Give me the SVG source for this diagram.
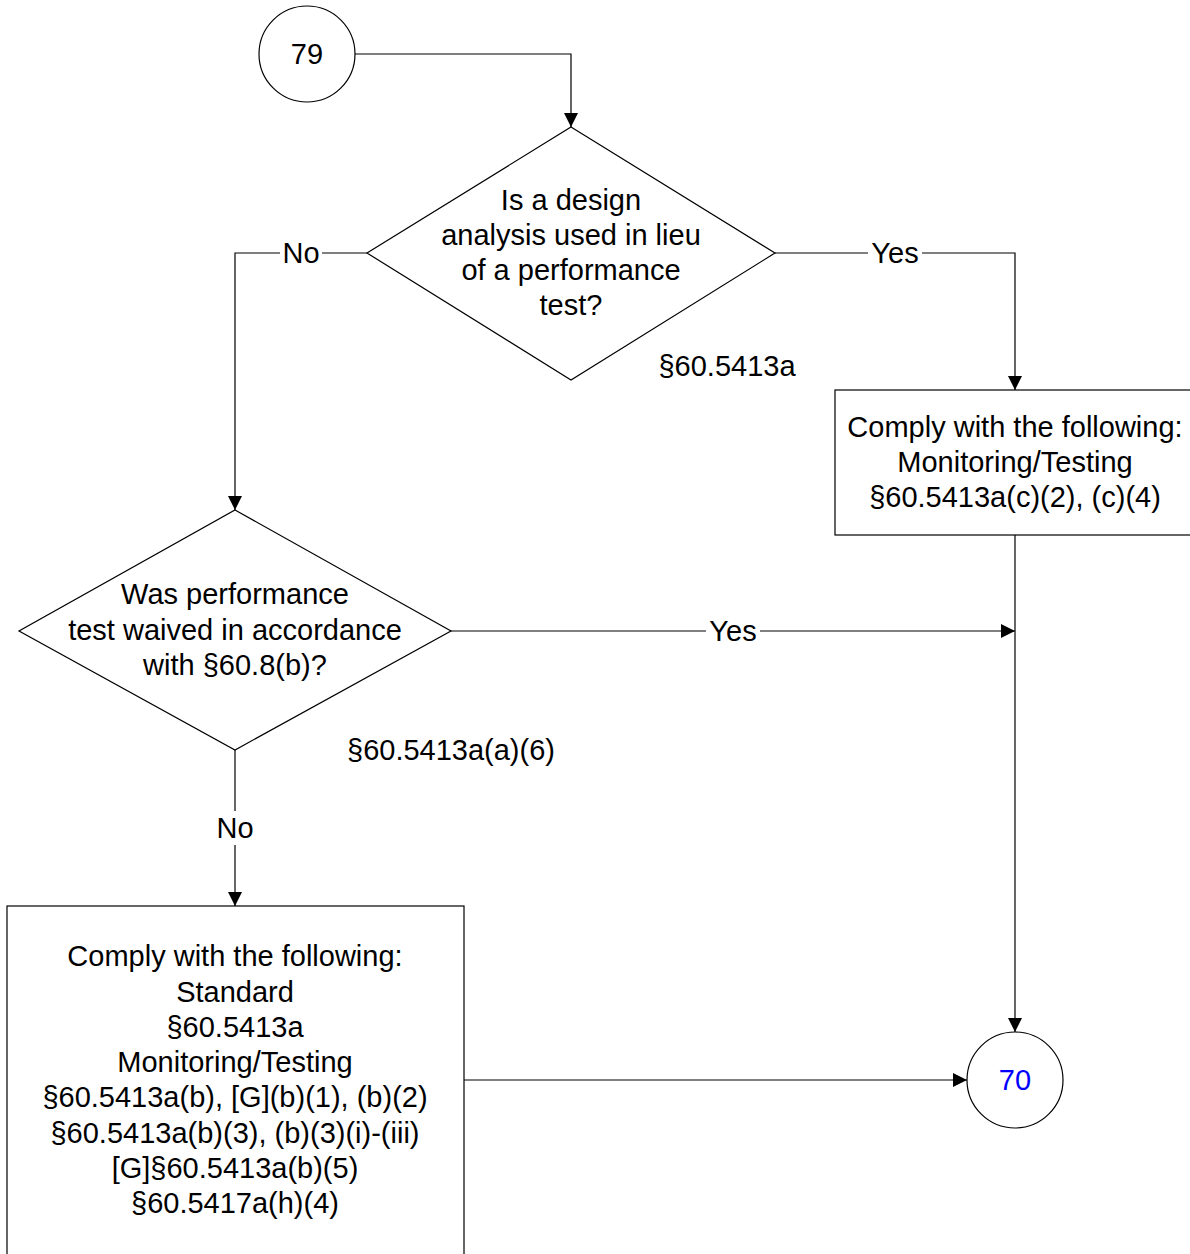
<svg xmlns="http://www.w3.org/2000/svg" width="1190" height="1254" viewBox="0 0 1190 1254">
<defs>
<marker id="arr" markerWidth="14" markerHeight="14" refX="14" refY="7" orient="auto" markerUnits="userSpaceOnUse">
<path d="M0,0 L14,7 L0,14 Z" fill="#000"/>
</marker>
<style>
.s{fill:#fff;stroke:#000;stroke-width:1.2}
.t{font-family:"Liberation Sans",Arial,sans-serif;font-size:29px;fill:#000;text-anchor:middle}
.c{fill:none;stroke:#000;stroke-width:1.2}
.lb{fill:#fff}
</style>
</defs>
<rect width="1190" height="1254" fill="#fff"/>
<g id="connectors">
<path class="c" d="M355,54 H571 V127" marker-end="url(#arr)"/>
<path class="c" d="M367,253 H235 V510" marker-end="url(#arr)"/>
<path class="c" d="M775,253 H1015 V390" marker-end="url(#arr)"/>
<path class="c" d="M1015,535 V1032" marker-end="url(#arr)"/>
<path class="c" d="M451,631 H1015" marker-end="url(#arr)"/>
<path class="c" d="M235,750 V906" marker-end="url(#arr)"/>
<path class="c" d="M464,1080 H967" marker-end="url(#arr)"/>
<rect class="lb" x="280" y="236" width="42" height="34"/>
<text class="t" x="301" y="263">No</text>
<rect class="lb" x="868" y="236" width="54" height="34"/>
<text class="t" x="895" y="263">Yes</text>
<rect class="lb" x="706" y="614" width="54" height="34"/>
<text class="t" x="733" y="641">Yes</text>
<rect class="lb" x="214" y="811" width="42" height="34"/>
<text class="t" x="235" y="838">No</text>
</g>
<g id="n79">
<circle class="s" cx="307" cy="54" r="48"/>
<text class="t" x="307" y="64">79</text>
</g>
<g id="d1">
<polygon class="s" points="571,127 775,253 571,380 367,253"/>
<text class="t" x="571" y="210">Is a design</text>
<text class="t" x="571" y="245">analysis used in lieu</text>
<text class="t" x="571" y="280">of a performance</text>
<text class="t" x="571" y="315">test?</text>
<text class="t" x="727" y="376">§60.5413a</text>
</g>
<g id="b1">
<rect class="s" x="835" y="390" width="360" height="145"/>
<text class="t" x="1015" y="437">Comply with the following:</text>
<text class="t" x="1015" y="472">Monitoring/Testing</text>
<text class="t" x="1015" y="507">§60.5413a(c)(2), (c)(4)</text>
</g>
<g id="d2">
<polygon class="s" points="235,510 451,631 235,750 19,631"/>
<text class="t" x="235" y="604">Was performance</text>
<text class="t" x="235" y="640">test waived in accordance</text>
<text class="t" x="235" y="675">with §60.8(b)?</text>
<text class="t" x="451" y="760">§60.5413a(a)(6)</text>
</g>
<g id="b2">
<rect class="s" x="7" y="906" width="457" height="360"/>
<text class="t" x="235" y="966">Comply with the following:</text>
<text class="t" x="235" y="1002">Standard</text>
<text class="t" x="235" y="1037">§60.5413a</text>
<text class="t" x="235" y="1072">Monitoring/Testing</text>
<text class="t" x="235" y="1107">§60.5413a(b), [G](b)(1), (b)(2)</text>
<text class="t" x="235" y="1143">§60.5413a(b)(3), (b)(3)(i)-(iii)</text>
<text class="t" x="235" y="1178">[G]§60.5413a(b)(5)</text>
<text class="t" x="235" y="1213">§60.5417a(h)(4)</text>
</g>
<g id="n70">
<circle class="s" cx="1015" cy="1080" r="48"/>
<text class="t" x="1015" y="1090" style="fill:#0000ff">70</text>
</g>
</svg>
